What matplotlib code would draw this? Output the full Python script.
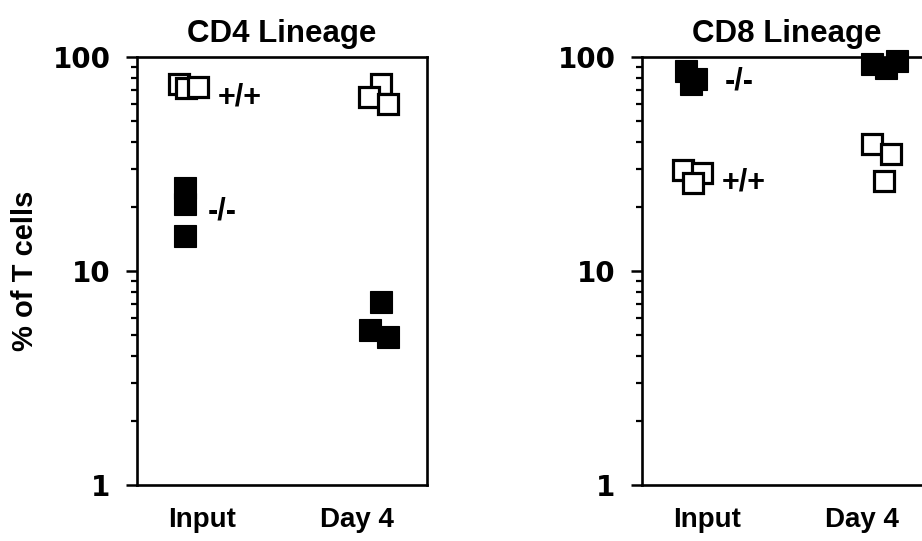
import numpy as np
import matplotlib.pyplot as plt
from matplotlib.ticker import LogLocator, NullFormatter

# Data (% of T cells)
groups = ['Input', 'Day 4']

cd4_wt_input = [74.8, 71.6, 72.4]
cd4_wt_day4 = [74.8, 65.0, 60.3]
cd4_ko_input = [24.4, 20.6, 14.6]
cd4_ko_day4 = [7.2, 5.3, 4.9]

cd8_wt_input = [29.6, 28.7, 25.8]
cd8_wt_day4 = [39.2, 35.2, 26.4]
cd8_ko_input = [86.0, 78.9, 74.8]
cd8_ko_day4 = [93.0, 89.0, 96.0]

# small horizontal jitter of overlapping squares (in group units)
jit_cd4_wt_input = [-0.03, 0.005, 0.07]
jit_cd4_wt_day4 = [0.03, -0.03, 0.07]
jit_cd4_ko_input = [0.0, 0.0, 0.0]
jit_cd4_ko_day4 = [0.03, -0.025, 0.07]

jit_cd8_wt_input = [-0.035, 0.065, 0.015]
jit_cd8_wt_day4 = [-0.04, 0.06, 0.02]
jit_cd8_ko_input = [-0.02, 0.03, 0.005]
jit_cd8_ko_day4 = [-0.04, 0.03, 0.09]

FONT = 'Liberation Sans'
plt.rcParams['font.family'] = [FONT, 'DejaVu Sans']
plt.rcParams['font.weight'] = 'bold'

fig = plt.figure(figsize=(9.22, 5.41), dpi=100)
ax1 = fig.add_axes([137 / 922, 1 - 485 / 541, 290 / 922, 428 / 541])
ax2 = fig.add_axes([642 / 922, 1 - 485 / 541, 290 / 922, 428 / 541])


def draw_group(ax, xpos, jit, vals, filled):
    xs = np.array(jit) + xpos
    for x, v in zip(xs, vals):
        ax.plot([x], [v], marker='s', linestyle='none',
                markersize=14 if not filled else 15.5,
                markeredgewidth=2.3 if not filled else 0.8,
                markeredgecolor='black',
                markerfacecolor='white' if not filled else 'black',
                clip_on=False, solid_joinstyle='round')


def style(ax, title):
    ax.set_yscale('log')
    ax.set_ylim(1, 100)
    ax.set_xlim(-0.253, 1.274)
    for s in ax.spines.values():
        s.set_linewidth(1.9)
    ax.yaxis.set_minor_locator(LogLocator(base=10, subs=np.arange(2, 10), numticks=20))
    ax.yaxis.set_minor_formatter(NullFormatter())
    ax.set_yticks([1, 10, 100])
    ax.set_yticklabels(['1', '10', '100'], family='DejaVu Sans', fontsize=20, weight='bold')
    ax.tick_params(axis='y', which='major', direction='out', length=8, width=1.8, pad=11)
    ax.tick_params(axis='y', which='minor', direction='out', length=4, width=1.6)
    ax.set_xticks([0.09, 0.905])
    ax.set_xticklabels(groups, fontsize=20, weight='bold')
    ax.tick_params(axis='x', length=0, pad=16)
    ax.set_title(title, fontsize=22.5, weight='bold', pad=11)


style(ax1, 'CD4 Lineage')
style(ax2, 'CD8 Lineage')

draw_group(ax1, 0, jit_cd4_wt_input, cd4_wt_input, False)
draw_group(ax1, 1, jit_cd4_wt_day4, cd4_wt_day4, False)
draw_group(ax1, 0, jit_cd4_ko_input, cd4_ko_input, True)
draw_group(ax1, 1, jit_cd4_ko_day4, cd4_ko_day4, True)

draw_group(ax2, 0, jit_cd8_wt_input, cd8_wt_input, False)
draw_group(ax2, 1, jit_cd8_wt_day4, cd8_wt_day4, False)
draw_group(ax2, 0, jit_cd8_ko_input, cd8_ko_input, True)
draw_group(ax2, 1, jit_cd8_ko_day4, cd8_ko_day4, True)

ax1.text(0.29, 65, '+/+', fontsize=22, weight='bold', ha='center', va='center')
ax1.text(0.195, 19, '-/-', fontsize=22, weight='bold', ha='center', va='center')
ax2.text(0.26, 77, '-/-', fontsize=22, weight='bold', ha='center', va='center')
ax2.text(0.285, 25.8, '+/+', fontsize=22, weight='bold', ha='center', va='center')

ax1.set_ylabel('% of T cells', fontsize=21, weight='bold')
ax1.yaxis.set_label_coords(-98 / 290, 0.5)

fig.savefig('out.png', dpi=100, facecolor='white')
